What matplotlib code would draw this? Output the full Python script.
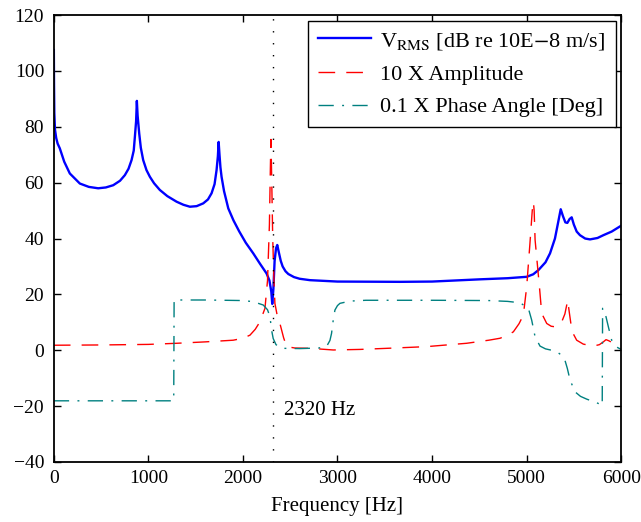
import matplotlib as mpl
mpl.use('Agg')
import matplotlib.pyplot as plt
import numpy as np

plt.rcParams['font.family'] = ['Liberation Serif', 'DejaVu Serif']
plt.rcParams['mathtext.fontset'] = 'stix'
plt.rcParams['font.size'] = 15

# V_RMS [dB re 10E-8 m/s]
vrms_f = [0, 2, 5, 12, 25, 40, 63, 110, 169, 275, 370, 469, 550, 628, 700, 751, 790,
          822, 845, 857, 870, 878, 886, 903, 920, 945, 980, 1016, 1060, 1121, 1200,
          1298, 1370, 1439, 1510, 1580, 1630, 1668, 1700, 1721, 1735, 1743, 1752,
          1762, 1774, 1800, 1845, 1900, 1960, 2030, 2109, 2180, 2250, 2280, 2300,
          2310, 2322, 2335, 2350, 2363, 2380, 2400, 2420, 2450, 2480, 2540, 2600,
          2709, 3000, 3661, 4000, 4507, 4800, 5001, 5070, 5125, 5200, 5248, 5300,
          5335, 5361, 5385, 5410, 5431, 5455, 5477, 5500, 5530, 5565, 5620, 5671,
          5750, 5812, 5900, 5981, 6000]
vrms_v = [107.5, 95, 85, 79, 76, 74, 72.3, 67.5, 63.3, 59.7, 58.5, 58.0, 58.3, 59.1,
          60.7, 62.7, 65, 68.1, 71.5, 76.4, 82, 89.3, 84, 77.6, 72.5, 68.1, 64.5,
          62.1, 59.8, 57.4, 55.2, 53.2, 52.1, 51.4, 51.6, 52.6, 54, 56.2, 59.5, 64.5,
          69.5, 74.6, 70, 65.5, 62.1, 57, 50.8, 46.5, 42.6, 38.5, 34.7, 31, 27.5,
          25, 21, 16.6, 22, 32, 36.5, 37.7, 35, 32, 30, 28.3, 27.3, 26.2, 25.6,
          25.1, 24.6, 24.5, 24.6, 25.4, 25.8, 26.3, 27.2, 28.7, 31.5, 34.7, 40,
          46, 50.5, 48, 45.8, 45.6, 47, 47.6, 45, 42.5, 41.2, 40, 39.7,
          40.2, 41.2, 42.5, 44.2, 44.6]

# 10 X Amplitude
amp_f = [0, 500, 1000, 1300, 1600, 1897, 2000, 2074, 2130, 2180, 2233, 2260, 2280,
         2290, 2296, 2305, 2315, 2328, 2338, 2365, 2391, 2430, 2462, 2550, 2709,
         2955, 3237, 3600, 3942, 4366, 4600, 4719, 4800, 4860, 4920, 4966, 5001,
         5035, 5060, 5072, 5080, 5090, 5136, 5160, 5213, 5260, 5301, 5340, 5372,
         5405, 5435, 5450, 5475, 5500, 5530, 5600, 5706, 5770, 5812, 5840, 5870,
         5918, 5960, 6000]
amp_v = [1.8, 1.9, 2.1, 2.5, 3, 3.6, 4.3, 5.4, 7.5, 10.2, 15, 25, 45,
         65, 75.5, 60, 40, 25, 16.8, 12, 9.6, 4.5, 1.3, 0.8, 0.7,
         0.1, 0.3, 0.8, 1.3, 2.5, 3.6, 4.3, 5.4, 6.6, 9.5, 12.6, 22.7,
         38, 50, 53.2, 50, 39.5, 22.7, 13.2, 9.6, 8.6, 8.4, 9, 10.2,
         13, 17.9, 14, 8, 5.5, 3.6, 2.2, 1.5, 2, 3.0, 3.8, 3.4,
         2.5, 1.8, 1.5]

# 0.1 X Phase Angle [Deg]
ph_f = [0, 1268, 1272, 1600, 2000, 2109, 2215, 2260, 2286, 2303, 2320, 2350, 2409,
        2600, 2800, 2884, 2920, 2937, 2955, 2973, 3000, 3026, 3132, 3300, 4000,
        4600, 4800, 4930, 5001, 5019, 5054, 5090, 5142, 5200, 5266, 5330, 5372,
        5405, 5431, 5460, 5513, 5570, 5636, 5742, 5795, 5800, 5804, 5812, 5840,
        5865, 5900, 5950, 6000]
ph_v = [-18.1, -18.1, 18, 18, 17.8, 17.4, 16.2, 14.5, 12, 7.2, 4.2, 2, 0.7,
        0.6, 0.8, 1.3, 3.5, 6, 10.8, 14.4, 16, 16.8, 17.6, 17.9, 17.9,
        17.8, 17.5, 17, 15.5, 15, 10.8, 4.8, 1.5, 0.5, 0, -0.8, -1.8,
        -3.5, -6.5, -10.7, -14.9, -16.5, -17.5, -18.8, -19.6, -19.8, 15, 15, 12,
        8.4, 3.6, 1.2, 0.3]

marker_f = 2320

fig = plt.figure(figsize=(6.41, 5.22), dpi=100)
ax = fig.add_axes([0.084, 0.115, 0.885, 0.856])

ax.plot(vrms_f, vrms_v, color='#0000ff', lw=1.7,
        label=r'V$_{\rm RMS}$ [dB re 10E$-$8 m/s]')
ax.plot(amp_f, amp_v, color='#ff0000', lw=1.0, dashes=(12, 8),
        label='10 X Amplitude')
ax.plot(ph_f, ph_v, color='#008080', lw=1.0, dashes=(11, 6, 1.4, 6),
        label='0.1 X Phase Angle [Deg]')
ax.axvline(marker_f, color='k', lw=1.0, dashes=(1, 7.6))
ax.text(marker_f + 110, -21.4, '%d Hz' % marker_f, ha='left', va='center')

ax.set_xlim(0, 6000)
ax.set_ylim(-40, 120)
ax.set_xticks(np.arange(0, 6001, 1000))
ax.set_yticks(np.arange(-40, 121, 20))
ax.set_yticklabels([str(v).replace('-', '\u2212') for v in range(-40, 121, 20)])
ax.set_xlabel('Frequency [Hz]', labelpad=7)
ax.tick_params(direction='in', top=True, right=True, length=5, width=1,
               labelsize=14)
ax.tick_params(axis='x', pad=6)
ax.tick_params(axis='y', pad=7)
for s in ax.spines.values():
  s.set_linewidth(1.3)

leg = ax.legend(loc='upper right', fancybox=False, framealpha=1, edgecolor='k',
                fontsize=16, handlelength=2.4, handletextpad=0.4,
                borderaxespad=0.25, labelspacing=0.55, borderpad=0.45)
leg.get_frame().set_linewidth(1.0)

plt.savefig('out.png', dpi=100)
